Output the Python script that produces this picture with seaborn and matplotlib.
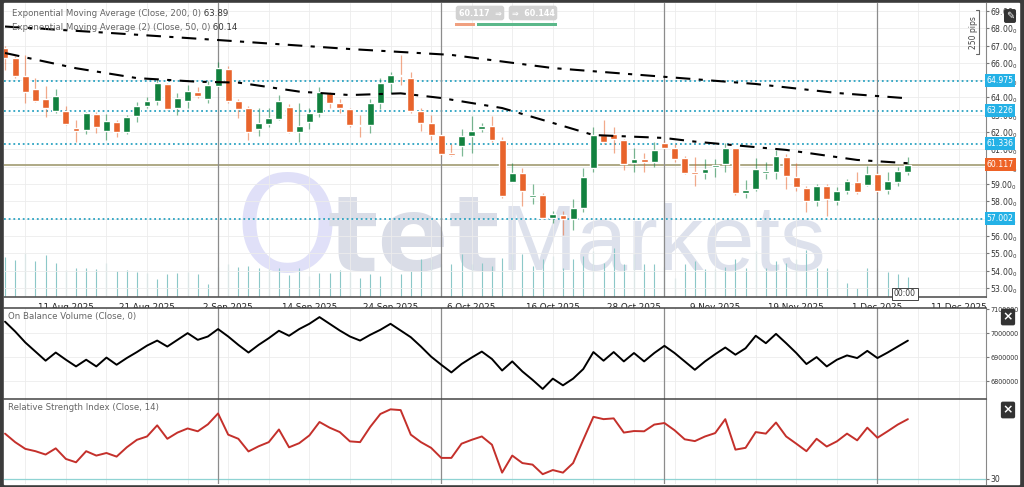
import numpy as np
import pandas as pd
import matplotlib
matplotlib.use("Agg")
import matplotlib.pyplot as plt
import matplotlib.transforms as mtransforms
from matplotlib.patches import Rectangle
import seaborn as sns

sns.set_style("white")
plt.rcParams['font.family'] = ['DejaVu Sans']

# daily candles, 1 Aug 2025 .. 4 Dec 2025
open_ = [66.86, 66.27, 65.24, 64.49, 63.90, 63.22, 63.22, 62.22, 62.12, 63.05,
         62.08, 62.60, 61.99, 62.93, 63.53, 63.82, 64.78, 63.38, 63.82, 64.34,
         63.90, 64.66, 65.65, 63.82, 63.38, 62.16, 62.45, 62.76, 63.47, 61.99,
         62.60, 63.09, 64.24, 63.70, 63.32, 62.41, 62.41, 63.70, 64.82, 65.30,
         65.11, 63.24, 62.54, 61.83, 60.78, 61.20, 61.77, 62.18, 62.37, 61.54,
         59.13, 59.62, 58.23, 58.37, 57.02, 57.21, 56.96, 57.60, 59.91, 61.83,
         61.89, 61.54, 60.24, 60.43, 60.29, 61.35, 61.06, 60.49, 59.71, 59.66,
         59.97, 60.16, 61.06, 58.46, 58.69, 59.66, 59.71, 60.58, 59.42, 58.79,
         58.03, 58.90, 58.03, 58.60, 59.13, 58.94, 59.56, 58.65, 59.13, 59.71]
high = [67.00, 66.40, 66.45, 65.11, 64.66, 64.47, 63.51, 62.70, 63.18, 63.18,
        63.05, 62.70, 63.00, 63.76, 64.00, 65.05, 64.85, 64.28, 64.72, 64.62,
        64.97, 66.07, 65.82, 63.90, 63.50, 63.38, 63.38, 64.14, 63.60, 63.70,
        63.38, 64.60, 64.34, 63.90, 63.40, 62.99, 63.90, 65.10, 65.49, 66.46,
        65.49, 63.40, 62.99, 61.90, 61.30, 62.16, 62.93, 62.55, 62.93, 61.70,
        60.20, 59.90, 59.00, 58.50, 57.45, 57.45, 58.12, 59.91, 62.31, 62.70,
        62.30, 61.60, 61.06, 60.80, 61.41, 61.50, 61.30, 60.60, 60.54, 60.45,
        60.45, 61.35, 61.10, 59.23, 60.49, 60.30, 60.97, 60.75, 60.20, 58.90,
        59.00, 59.00, 58.80, 59.30, 59.71, 60.04, 59.70, 59.70, 60.00, 60.58]
low = [65.59, 65.10, 63.68, 63.76, 62.89, 63.10, 62.40, 61.45, 61.89, 61.93,
       61.54, 61.73, 61.89, 62.60, 63.40, 63.57, 63.30, 62.99, 63.38, 63.95,
       63.70, 64.60, 63.70, 62.80, 61.54, 61.80, 62.30, 62.70, 61.93, 61.45,
       62.20, 62.90, 63.40, 63.09, 62.30, 61.73, 61.93, 63.32, 64.24, 64.72,
       63.10, 62.08, 61.54, 60.60, 60.60, 60.60, 60.77, 62.00, 61.40, 58.20,
       59.10, 57.73, 57.84, 56.95, 56.73, 56.05, 56.34, 57.40, 59.70, 61.30,
       60.77, 59.80, 59.71, 59.71, 60.00, 61.00, 60.30, 59.55, 58.88, 59.30,
       59.40, 59.70, 58.36, 58.17, 58.60, 59.30, 59.30, 58.69, 58.60, 57.40,
       57.70, 57.15, 57.80, 58.45, 58.40, 58.90, 58.50, 58.40, 58.90, 59.50]
close = [66.28, 65.24, 64.30, 63.82, 63.41, 64.09, 62.47, 62.08, 63.09, 62.31,
         62.64, 62.02, 62.89, 63.53, 63.82, 64.82, 63.34, 63.95, 64.38, 64.09,
         64.72, 65.69, 63.82, 63.34, 61.99, 62.51, 62.83, 63.82, 61.99, 62.35,
         63.09, 64.34, 63.66, 63.38, 62.41, 62.35, 63.70, 64.86, 65.30, 65.24,
         63.24, 62.51, 61.83, 60.73, 60.70, 61.77, 62.08, 62.37, 61.54, 58.31,
         59.62, 58.61, 58.37, 57.02, 57.27, 56.96, 57.60, 59.42, 61.83, 61.45,
         61.58, 60.16, 60.43, 60.29, 60.97, 61.06, 60.45, 59.66, 59.56, 59.85,
         60.10, 61.10, 58.50, 58.65, 59.85, 59.71, 60.62, 59.46, 58.81, 58.02,
         58.90, 58.12, 58.60, 59.17, 58.55, 59.56, 58.60, 59.17, 59.77, 60.12]
volume = [40, 37, 44, 36, 42, 34, 27, 29, 29, 28, 34, 26, 27, 25, 24, 18, 23, 24, 25, 23,
          13, 30, 33, 30, 31, 29, 28, 29, 22, 29, 21, 24, 24, 27, 25, 19, 23, 21, 29, 23,
          26, 38, 38, 33, 33, 43, 33, 34, 31, 39, 43, 43, 31, 38, 41, 29, 38, 41, 46, 34,
          49, 33, 43, 33, 33, 30, 19, 33, 36, 28, 28, 30, 38, 29, 46, 29, 36, 34, 38, 47,
          29, 29, 28, 14, 9, 29, 29, 25, 23, 20]
obv = [7048000, 7007000, 6961000, 6923000, 6885000, 6919000, 6889000, 6861000, 6889000, 6861000,
       6898000, 6868000, 6896000, 6921000, 6948000, 6969000, 6944000, 6972000, 7000000, 6972000,
       6986000, 7017000, 6986000, 6951000, 6919000, 6951000, 6979000, 7010000, 6989000, 7017000,
       7039000, 7067000, 7039000, 7011000, 6986000, 6969000, 6993000, 7014000, 7039000, 7011000,
       6983000, 6944000, 6902000, 6868000, 6836000, 6871000, 6898000, 6923000, 6892000, 6844000,
       6882000, 6840000, 6805000, 6767000, 6810000, 6782000, 6810000, 6850000, 6921000, 6885000,
       6921000, 6882000, 6917000, 6882000, 6917000, 6947000, 6917000, 6882000, 6847000, 6882000,
       6912000, 6940000, 6910000, 6937000, 6989000, 6958000, 6997000, 6958000, 6917000, 6871000,
       6900000, 6861000, 6889000, 6907000, 6896000, 6926000, 6896000, 6919000, 6944000, 6968807]
rsi = [47.4, 44.1, 41.5, 40.6, 39.3, 41.7, 37.6, 36.3, 40.6, 38.9,
       39.9, 38.5, 42.1, 45.0, 46.3, 50.6, 45.4, 47.8, 49.4, 48.3,
       51.0, 55.2, 47.0, 45.4, 40.5, 42.5, 44.1, 49.0, 42.1, 43.7,
       46.7, 51.9, 49.7, 48.0, 44.4, 44.1, 50.0, 55.0, 56.8, 56.5,
       47.0, 44.1, 41.9, 38.0, 38.0, 43.5, 45.0, 46.3, 43.1, 32.3,
       38.9, 36.0, 35.4, 31.7, 33.3, 32.3, 36.0, 45.0, 53.9, 53.0,
       53.3, 47.8, 48.4, 48.3, 50.9, 51.5, 48.7, 45.2, 44.5, 46.3,
       47.6, 53.0, 41.2, 41.9, 48.0, 47.4, 51.7, 46.3, 43.5, 40.6,
       45.4, 42.4, 44.4, 47.4, 44.8, 49.7, 45.8, 48.3, 50.9, 53.0]

ema200_at = [0, 9, 21, 34, 44, 54, 64, 74, 82, 89]
ema200 = [68.10, 67.78, 67.32, 66.80, 66.46, 65.70, 65.24, 64.78, 64.26, 63.95]
ema50_at = [0, 7, 13, 19, 23, 29, 34, 39, 43, 49, 54, 58, 65, 68, 77, 84, 89]
ema50 = [66.57, 65.69, 65.12, 64.91, 64.86, 64.34, 64.14, 64.24, 63.97, 63.39,
         62.53, 61.83, 61.66, 61.45, 60.97, 60.39, 60.20]

levels = [64.975, 63.226, 61.336, 57.002]
last_price = 60.117
tick_idx = [6, 14, 22, 30, 38, 46, 54, 62, 70, 78, 86, 94]
tick_labels = ['11 Aug 2025', '21 Aug 2025', '2 Sep 2025', '14 Sep 2025', '24 Sep 2025',
               '6 Oct 2025', '16 Oct 2025', '28 Oct 2025', '9 Nov 2025', '19 Nov 2025',
               '1 Dec 2025', '11 Dec 2025']
month_idx = [21, 43, 65, 86]

df = pd.DataFrame({'open': open_, 'high': high, 'low': low, 'close': close,
                   'volume': volume, 'obv': obv, 'rsi': rsi})
df['i'] = np.arange(len(df))
up = df.close >= df.open
GREEN, ORANGE = '#12813f', '#e8642c'
df['color'] = np.where(up, GREEN, ORANGE)

W, H = 1024, 487
def fx(x): return x / W
def fy(y): return 1 - y / H

fig = plt.figure(figsize=(W / 100, H / 100), dpi=100, facecolor='#3b3b3b')
fig.patches.append(Rectangle((fx(4), fy(484)), fx(1019) - fx(4), fy(3) - fy(484),
                             transform=fig.transFigure, facecolor='white', zorder=-5))

ax_v = fig.add_axes([fx(4), fy(297), fx(986) - fx(4), fy(3) - fy(297)])
ax = fig.add_axes([fx(4), fy(297), fx(986) - fx(4), fy(3) - fy(297)], sharex=ax_v)
ax2 = fig.add_axes([fx(4), fy(399), fx(986) - fx(4), fy(308) - fy(399)], sharex=ax_v)
ax3 = fig.add_axes([fx(4), fy(484), fx(986) - fx(4), fy(399) - fy(484)], sharex=ax_v)
ax.patch.set_visible(False)
ax_v.set_facecolor('white')

xmin, xmax = -0.1, 96.7
ax_v.set_xlim(xmin, xmax)
grid_c = '#ececec'
vgrid = np.arange(2, 97, 4)

# ---- watermark + volume (bottom layer)
ax_v.set_ylim(0, 294)
ax_v.axis('off')
ax_v.text(fx(234), fy(271), 'O', transform=fig.transFigure, fontsize=96,
          color='#e0e0f8', ha='left', va='baseline', zorder=0)
ax_v.text(fx(328), fy(271), 'tet', transform=fig.transFigure, fontsize=76, fontweight='bold',
          color='#dadde7', ha='left', va='baseline', zorder=0)
ax_v.text(fx(500), fy(270), 'Markets', transform=fig.transFigure, fontsize=66,
          family='Liberation Sans', color='#dde1ec', ha='left', va='baseline', zorder=0)
ax_v.vlines(df.i, 0, df.volume, color='#8cc8c8', lw=0.8, zorder=1)

# ---- main price panel
ax.set_ylim(52.47, 69.46)
for g in vgrid:
    ax.axvline(g, color=grid_c, lw=0.6, zorder=0)
for p in range(53, 70):
    ax.axhline(p, color=grid_c, lw=0.6, zorder=0)
for lv in levels:
    ax.axhline(lv, color='#2ba3c2', lw=1.3, linestyle=(0, (1, 1.6)), zorder=2)
ax.axhline(last_price, color='#a8a27c', lw=1.3, zorder=2)

ax.vlines(df.i, df.low, df.high, colors=df.color, lw=0.9, alpha=0.55, zorder=3)
body_lo = np.minimum(df.open, df.close)
body_h = np.maximum((df.close - df.open).abs(), 0.07)
ax.bar(df.i, body_h, bottom=body_lo, width=0.68, color=df.color, zorder=4)

sns.lineplot(x=ema200_at, y=ema200, ax=ax, color='black', lw=1.5,
             linestyle=(0, (7, 4, 2, 4)), zorder=5)
sns.lineplot(x=ema50_at, y=ema50, ax=ax, color='black', lw=1.5,
             linestyle=(0, (7, 4, 2, 4)), zorder=5)

ax.set_xticks(tick_idx)
ax.set_xticklabels(tick_labels, fontsize=6.3, color='#222')
ax.tick_params(axis='x', length=2.5, width=0.8, pad=1.5, color='#444')
ax.yaxis.tick_right()
ax.set_yticks(range(53, 70))
ax.set_yticklabels([f'{p}.00$_0$' for p in range(53, 70)], fontsize=5.6, color='#333')
ax.tick_params(axis='y', length=2, pad=1.2, color='#777')
for s in ['top', 'left']:
    ax.spines[s].set_visible(False)
ax.spines['bottom'].set_color('#555')
ax.spines['bottom'].set_linewidth(1.2)
ax.spines['right'].set_color('#888')
ax.set_xlabel('')
ax.set_ylabel('')

blend = mtransforms.blended_transform_factory(ax.transAxes, ax.transData)
for lv in levels:
    ax.text(1.0005, lv, f'{lv:.3f}', transform=blend, fontsize=5.6, color='white',
            ha='left', va='center', zorder=10, clip_on=False,
            bbox=dict(boxstyle='square,pad=0.25', fc='#24b1e6', ec='none'))
ax.text(1.0005, last_price, f'{last_price:.3f}', transform=blend, fontsize=5.6, color='white',
        ha='left', va='center', zorder=10, clip_on=False,
        bbox=dict(boxstyle='square,pad=0.25', fc='#ee6226', ec='none'))

# ---- OBV panel
ax2.set_ylim(6725000, 7105000)
for g in vgrid:
    ax2.axvline(g, color=grid_c, lw=0.6, zorder=0)
for v in [6800000, 6900000, 7000000]:
    ax2.axhline(v, color=grid_c, lw=0.6, zorder=0)
sns.lineplot(x=df.i, y=df.obv, ax=ax2, color='black', lw=1.4, zorder=3)
ax2.yaxis.tick_right()
ax2.set_yticks([6800000, 6900000, 7000000, 7100000])
ax2.set_yticklabels(['6800000', '6900000', '7000000', '7100000'], fontsize=4.7, color='#333')
ax2.tick_params(axis='y', length=2, pad=1, color='#777')
ax2.tick_params(axis='x', length=0, labelbottom=False)

# ---- RSI panel
ax3.set_ylim(27.9, 60.8)
for g in vgrid:
    ax3.axvline(g, color=grid_c, lw=0.6, zorder=0)
ax3.axhline(30, color='#8fd3d3', lw=0.9, zorder=1)
sns.lineplot(x=df.i, y=df.rsi, ax=ax3, color='#c4302b', lw=1.4, zorder=3)
ax3.yaxis.tick_right()
ax3.set_yticks([30])
ax3.set_yticklabels(['30'], fontsize=5.6, color='#333')
ax3.tick_params(axis='y', length=2, pad=1.2, color='#777')
ax3.tick_params(axis='x', length=0, labelbottom=False)

for a in (ax2, ax3):
    a.set_xlabel('')
    a.set_ylabel('')
    a.spines['left'].set_visible(False)
    a.spines['bottom'].set_visible(False)
    a.spines['top'].set_color('#444')
    a.spines['top'].set_linewidth(1.1)
    a.spines['right'].set_color('#888')
    a.set_facecolor('white')

for a in (ax, ax2, ax3):
    for m in month_idx:
        a.axvline(m, color='#8c8c8c', lw=0.9, zorder=2)
ax_v.set_xlim(xmin, xmax)

# ---- panel captions
t = fig.text(fx(12), fy(13), 'Exponential Moving Average (Close, 200, 0)', fontsize=6.2,
             color='#666', va='center')
ax.annotate(' 63.89', xy=(1, 0), xycoords=t, fontsize=6.2, color='#333', va='bottom')
t = fig.text(fx(12), fy(27), 'Exponential Moving Average (2) (Close, 50, 0)', fontsize=6.2,
             color='#666', va='center')
ax.annotate(' 60.14', xy=(1, 0), xycoords=t, fontsize=6.2, color='#333', va='bottom')
t = fig.text(fx(8), fy(316), 'On Balance Volume (Close, 0)', fontsize=6.2, color='#666', va='center')
ax.annotate(' 6968807', xy=(1, 0), xycoords=t, fontsize=6.2, color='#222', va='bottom')
t = fig.text(fx(8), fy(408), 'Relative Strength Index (Close, 14)', fontsize=6.2, color='#666', va='center')
ax.annotate(' 53', xy=(1, 0), xycoords=t, fontsize=6.2, color='#c4302b', va='bottom')

# ---- small widgets
fig.text(fx(480), fy(13), '60.117  ⇒', fontsize=5.8, color='white', ha='center', va='center',
         fontweight='bold', bbox=dict(boxstyle='round,pad=0.35', fc='#d2d2d2', ec='none'))
fig.text(fx(533), fy(13), '⇒  60.144', fontsize=5.8, color='white', ha='center', va='center',
         fontweight='bold', bbox=dict(boxstyle='round,pad=0.35', fc='#d2d2d2', ec='none'))
fig.patches.append(Rectangle((fx(455), fy(26)), fx(20), fy(23) - fy(26),
                             transform=fig.transFigure, fc='#f0a080', ec='none'))
fig.patches.append(Rectangle((fx(477), fy(26)), fx(80), fy(23) - fy(26),
                             transform=fig.transFigure, fc='#5bb88a', ec='none'))
fig.text(fx(1010), fy(16), '✎', fontsize=7, color='white', ha='center', va='center',
         bbox=dict(boxstyle='round,pad=0.2', fc='#333', ec='none'))
for yy in (317, 410):
    fig.text(fx(1008), fy(yy), '×', fontsize=9, color='white', ha='center', va='center',
             fontweight='bold', bbox=dict(boxstyle='round,pad=0.15', fc='#333', ec='none'))
fig.text(fx(973), fy(33), '250 pips', fontsize=5.5, color='#444', rotation=90,
         ha='center', va='center')
fig.lines.append(plt.Line2D([fx(976), fx(979), fx(979), fx(976)], [fy(10), fy(10), fy(54), fy(54)],
                            transform=fig.transFigure, color='#666', lw=0.8))
fig.text(fx(905), fy(294), '00:00', fontsize=5.5, color='#333', ha='center', va='center',
         bbox=dict(boxstyle='square,pad=0.2', fc='white', ec='#444', lw=0.7))

fig.savefig('out.png', dpi=100, facecolor=fig.get_facecolor())
